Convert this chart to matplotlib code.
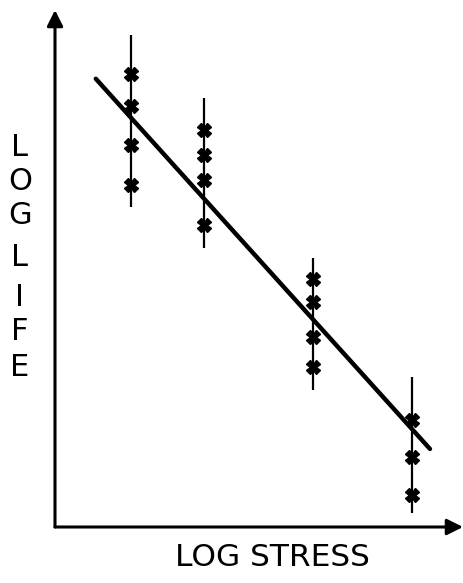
import numpy as np
import matplotlib
matplotlib.use('Agg')
import matplotlib.pyplot as plt

# log stress level of each test group, and log life of each specimen
stress = [1.86, 3.65, 6.32, 8.75]
life = [
    [8.76, 8.14, 7.39, 6.62],
    [7.68, 7.20, 6.71, 5.84],
    [4.80, 4.35, 3.68, 3.09],
    [2.07, 1.35, 0.62],
]
# scatter band (low, high) drawn through each group
band = [(6.19, 9.52), (5.40, 8.30), (2.65, 5.20), (0.27, 2.90)]
# fitted line end points
fit_x = [1.00, 9.19]
fit_y = [8.67, 1.51]

ylabel_letters = ['L', 'O', 'G', 'L', 'I', 'F', 'E']
ylabel_pos = [148, 182, 215, 258, 298, 332, 368]   # pixel centres from top

W, H = 464, 583
fig = plt.figure(figsize=(W / 100, H / 100), dpi=100)
ax = fig.add_axes([55 / W, (H - 527) / H, 408 / W, 517 / H])
ax.set_xlim(0, 10)
ax.set_ylim(0, 10)
ax.axis('off')

arrow = dict(arrowstyle='-|>', lw=2.2, color='k', mutation_scale=24,
             shrinkA=0, shrinkB=0)
ax.annotate('', xy=(0, 10), xytext=(0, 0), arrowprops=arrow, annotation_clip=False)
ax.annotate('', xy=(10, 0), xytext=(0, 0), arrowprops=arrow, annotation_clip=False)

for x, ys, (lo, hi) in zip(stress, life, band):
    ax.plot([x, x], [lo, hi], color='k', lw=1.6, solid_capstyle='butt')
    ax.plot([x] * len(ys), ys, ls='none', marker='X', ms=10, color='k',
            mec='k', clip_on=False)

ax.plot(fit_x, fit_y, color='k', lw=3.2, solid_capstyle='round')

fam = ['Liberation Sans Narrow', 'DejaVu Sans']
fig.text(272 / W, 1 - 558 / H, 'LOG STRESS', ha='center', va='center',
         fontsize=22.5, family='DejaVu Sans')
for ch, py in zip(ylabel_letters, ylabel_pos):
    fig.text(20 / W, 1 - py / H, ch, ha='center', va='center',
             fontsize=22, family='DejaVu Sans')

fig.savefig('out.png', dpi=100)
